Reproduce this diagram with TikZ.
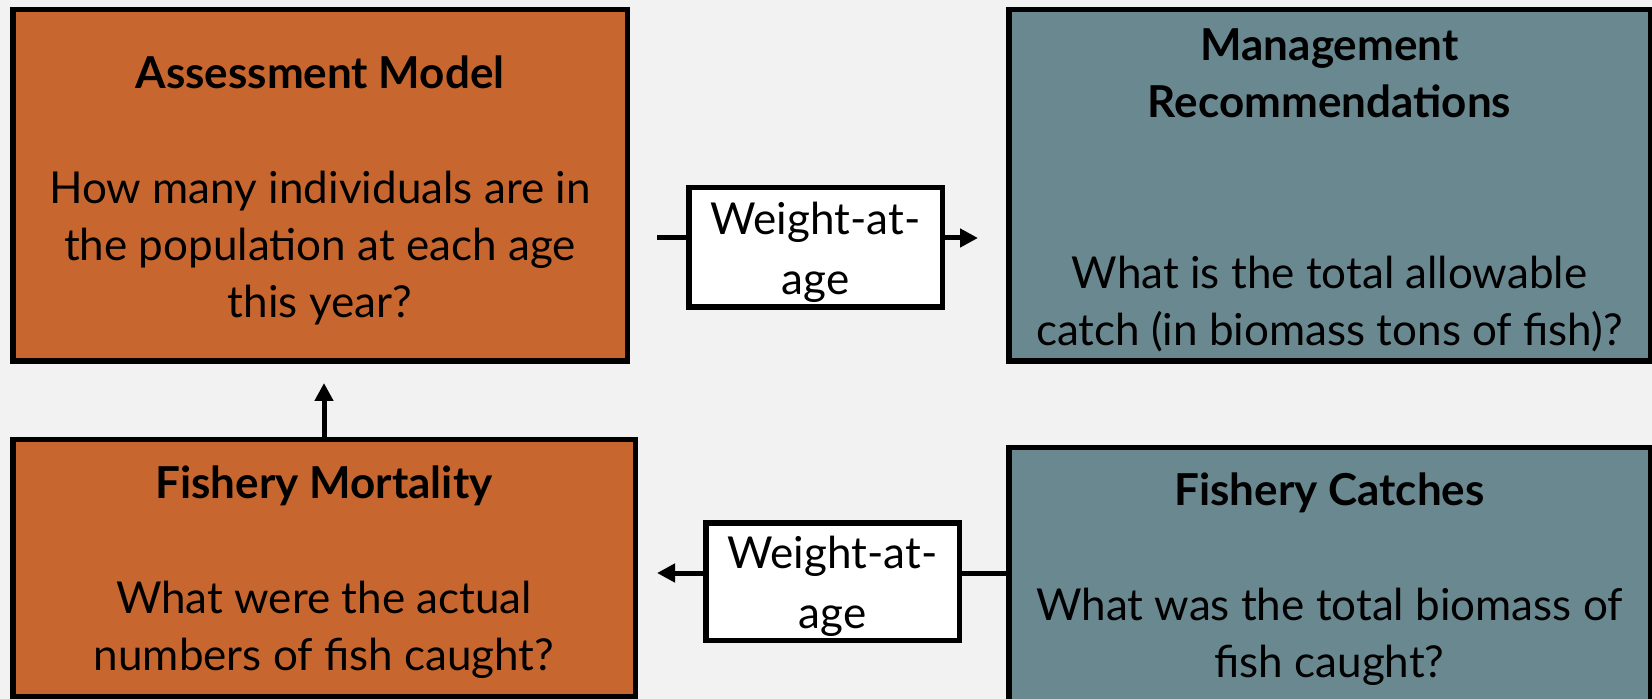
\documentclass[tikz,border=0pt]{standalone}
\usepackage{fontspec}
\setmainfont{Lato}
\usetikzlibrary{arrows.meta}
\definecolor{bgcol}{HTML}{F2F2F2}
\definecolor{rust}{HTML}{C8662F}
\definecolor{slate}{HTML}{6A8890}
\newcommand{\topstrut}{\rule{0pt}{21pt}}

\begin{document}
\begin{tikzpicture}[x=0.5pt,y=-0.5pt,>={Triangle[length=9pt,width=9pt]},
  box/.style={draw=black,line width=2.75pt,inner sep=0pt,align=center,
    font=\fontsize{22}{28.5}\selectfont},
  wbox/.style={box,fill=white,font=\fontsize{22}{30}\selectfont},
  conn/.style={line width=2.5pt}]
\fill[bgcol] (0,0) rectangle (1652,699);
\useasboundingbox (0,0) rectangle (1652,699);
\node[box,fill=rust,minimum width=307.25pt,minimum height=175.75pt] (model) at (320,185.5)
  {\topstrut\textbf{Assessment Model}\\[29pt]How many individuals are in\\the population at each age\\this year?};
\node[box,fill=slate,minimum width=320.75pt,minimum height=175.75pt] (recs) at (1329.5,185.5)
  {\topstrut\textbf{Management}\\\textbf{Recommendations}\\[57pt]What is the total allowable\\catch (in biomass tons of fish)?};
\node[box,fill=rust,minimum width=311.25pt,minimum height=128.25pt] (mort) at (324,568)
  {\topstrut\textbf{Fishery Mortality}\\[29pt]What were the actual\\numbers of fish caught?};
\node[box,fill=slate,minimum width=320.75pt,minimum height=127.25pt] (catch) at (1329.5,575)
  {\topstrut\textbf{Fishery Catches}\\[29pt]What was the total biomass of\\fish caught?};
\node[wbox,minimum width=126.75pt,minimum height=59.75pt] (wtop) at (815.5,247.5) {\topstrut Weight-at-\\age};
\node[wbox,minimum width=126.75pt,minimum height=58.75pt] (wbot) at (832.5,581.5) {\topstrut Weight-at-\\age};
% top row
\draw[conn,shorten <=13.5pt] ([yshift=4.75pt]wtop.west -| model.east) -- ([yshift=4.75pt]wtop.west);
\draw[conn,->,shorten >=14pt] ([yshift=4.75pt]wtop.east) -- ([yshift=4.75pt]wtop.east -| recs.west);
% bottom row
\draw[conn] ([yshift=4.25pt]wbot.east -| catch.west) -- ([yshift=4.25pt]wbot.east);
\draw[conn,->,shorten >=9.5pt] ([yshift=4.25pt]wbot.west) -- ([yshift=4.25pt]wbot.west -| mort.east);
% up
\draw[conn,->,shorten >=9.5pt] (mort.north) -- (mort.north |- model.south);
\end{tikzpicture}
\end{document}
